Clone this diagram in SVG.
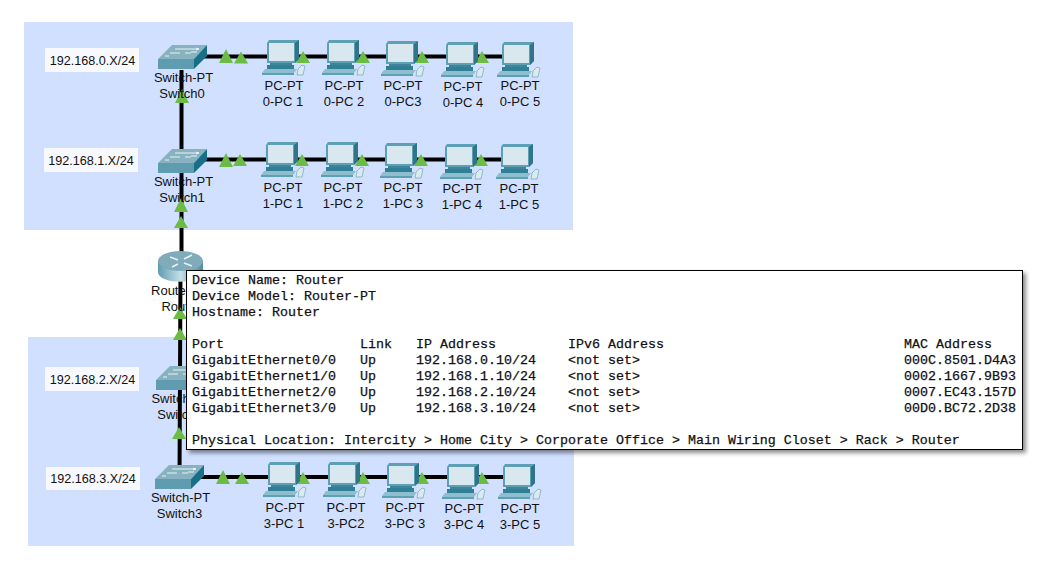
<svg xmlns="http://www.w3.org/2000/svg" width="1062" height="574" viewBox="0 0 1062 574">
<style>
text{font-family:"Liberation Sans",Arial,sans-serif;font-size:13px;fill:#111;text-anchor:middle}
text.ip{font-size:12.6px}
text.m{font-family:"Liberation Mono","Courier New",monospace;font-size:13.33px;fill:#111;text-anchor:start;stroke:#111;stroke-width:.25}
.zone{fill:#d0e0fe}
.lab{fill:#f8f9ff}
.w{stroke:#000;stroke-width:4;fill:none}
.tb{fill:#6cbb45}
</style>
<defs>
<linearGradient id="rg" x1="0" x2="1" y1="0" y2="0"><stop offset="0" stop-color="#5f9cb0"/><stop offset=".5" stop-color="#c5dfe8"/><stop offset="1" stop-color="#4f8ba0"/></linearGradient>
<g id="pc">
<path d="M0 3L2 0H32V19L28 23H0Z" fill="#5d9fb3"/>
<path d="M28 3L32 0V19L28 23Z" fill="#2f7488"/>
<rect x="2" y="3" width="25" height="18" fill="#d9e8ee"/>
<path d="M3 23H25V25H3Z" fill="#3f8499"/>
<path d="M0 25H27V29H0Z" fill="#2f7f96"/>
<path d="M-2 29H30L27 33H-5Z" fill="#8fbfce"/>
<path d="M-5 33H27V35H-5Z" fill="#5d9fb3"/>
<path d="M31 29L35 25 38 26 36 35H30Z" fill="#dce9ee" stroke="#6fa9ba" stroke-width=".7"/>
</g>
<g id="sw">
<path d="M0 14L14 0H49L36 14Z" fill="#88b2c0"/>
<path d="M0 14H36V24H0Z" fill="#5f9cb0"/>
<path d="M36 14L49 0V11L36 24Z" fill="#176f8a"/>
<path d="M17 4H41M38 3l3 1-3 1M12 8H22M33 7h6M11 11H7M27 8h6" stroke="#e8f2f5" stroke-width="1" fill="none"/>
</g>
<path id="t1" class="tb" d="M-7 7L0 -7L7 7Z"/>
<path id="t2" class="tb" d="M-7 6L0 -6L7 6Z"/>
<filter id="sh" x="-2%" y="-3%" width="105%" height="108%"><feDropShadow dx="3" dy="3" stdDeviation="2" flood-color="#000" flood-opacity=".45"/></filter>
</defs>
<rect width="1062" height="574" fill="#fff"/>
<rect class="zone" x="24" y="22" width="549" height="208"/>
<rect class="zone" x="28" y="337" width="546" height="209"/>
<g id="connectors">
<path class="w" d="M181.500 70V262M180.500 270L179.500 480"/>
<path class="w" d="M200 56.500H531M200 159.500H531M200 477H535"/>
</g>
<g id="markers">
<use href="#t1" x="226" y="56"/><use href="#t2" x="241" y="57.500"/>
<use href="#t2" x="303" y="57"/><use href="#t2" x="363" y="57"/><use href="#t2" x="422" y="57"/><use href="#t2" x="482" y="57"/>
<use href="#t1" x="226" y="160"/><use href="#t2" x="240" y="160"/>
<use href="#t2" x="302" y="160"/><use href="#t2" x="362" y="160"/><use href="#t2" x="421" y="160"/><use href="#t2" x="481" y="160"/>
<use href="#t1" x="223" y="477"/><use href="#t2" x="242" y="478"/>
<use href="#t2" x="303" y="478"/><use href="#t2" x="363" y="478"/><use href="#t2" x="422" y="478"/><use href="#t2" x="482" y="478"/>
<use href="#t1" x="182" y="96"/>
<use href="#t1" x="181" y="205"/><use href="#t2" x="181" y="222"/><use href="#t2" x="180" y="313"/><use href="#t2" x="180" y="334"/><use href="#t2" x="179" y="433"/>
</g>
<g id="label-0"><rect class="lab" x="45" y="48" width="94" height="24"/><text class="ip" x="92.500" y="65">192.168.0.X/24</text></g>
<g id="label-1"><rect class="lab" x="44" y="148" width="94" height="24"/><text class="ip" x="91" y="165">192.168.1.X/24</text></g>
<g id="label-2"><rect class="lab" x="45" y="367" width="94" height="24"/><text class="ip" x="92.500" y="384">192.168.2.X/24</text></g>
<g id="label-3"><rect class="lab" x="46" y="467" width="94" height="23"/><text class="ip" x="93" y="483">192.168.3.X/24</text></g>
<g id="switch0"><use href="#sw" x="158" y="45"/><text x="183.500" y="82">Switch-PT</text><text x="182" y="98">Switch0</text></g>
<g id="switch1"><use href="#sw" x="158" y="149"/><text x="183.500" y="186">Switch-PT</text><text x="182" y="202">Switch1</text></g>
<g id="switch2"><use href="#sw" x="156" y="366"/><text x="181" y="403">Switch-PT</text><text x="180" y="419">Switch2</text></g>
<g id="switch3"><use href="#sw" x="155" y="465"/><text x="180.500" y="502">Switch-PT</text><text x="179.500" y="518">Switch3</text></g>
<g id="router">
<path d="M158 261V272C158 285 203 285 203 272V261Z" fill="url(#rg)"/>
<ellipse cx="180.500" cy="261" rx="22.500" ry="10" fill="#7fabba"/>
<path d="M170 257l8 3M192 255l-8 4M172 267l6-3M192 266l-8-3" stroke="#e8f2f5" stroke-width="1.6"/>
<text x="181" y="295">Router-PT</text><text x="181" y="311">Router</text>
</g>
<g id="pc-0-1"><use href="#pc" x="267" y="40"/><text x="284" y="90">PC-PT</text><text x="283" y="106">0-PC 1</text></g>
<g id="pc-0-2"><use href="#pc" x="327" y="40"/><text x="344" y="90">PC-PT</text><text x="344" y="106">0-PC 2</text></g>
<g id="pc-0-3"><use href="#pc" x="386" y="41"/><text x="403" y="90">PC-PT</text><text x="403" y="106">0-PC3</text></g>
<g id="pc-0-4"><use href="#pc" x="446" y="42"/><text x="463" y="91">PC-PT</text><text x="463" y="107">0-PC 4</text></g>
<g id="pc-0-5"><use href="#pc" x="502" y="42"/><text x="520" y="90">PC-PT</text><text x="520" y="106">0-PC 5</text></g>
<g id="pc-1-1"><use href="#pc" x="266" y="142"/><text x="283" y="192">PC-PT</text><text x="283" y="208">1-PC 1</text></g>
<g id="pc-1-2"><use href="#pc" x="326" y="142"/><text x="343" y="192">PC-PT</text><text x="343" y="208">1-PC 2</text></g>
<g id="pc-1-3"><use href="#pc" x="385" y="143"/><text x="403" y="192">PC-PT</text><text x="403" y="208">1-PC 3</text></g>
<g id="pc-1-4"><use href="#pc" x="445" y="144"/><text x="462" y="193">PC-PT</text><text x="462" y="209">1-PC 4</text></g>
<g id="pc-1-5"><use href="#pc" x="501" y="144"/><text x="519" y="193">PC-PT</text><text x="519" y="209">1-PC 5</text></g>
<g id="pc-3-1"><use href="#pc" x="268" y="462"/><text x="285" y="512">PC-PT</text><text x="284" y="528">3-PC 1</text></g>
<g id="pc-3-2"><use href="#pc" x="328" y="462"/><text x="346" y="512">PC-PT</text><text x="346" y="528">3-PC2</text></g>
<g id="pc-3-3"><use href="#pc" x="387" y="463"/><text x="405" y="512">PC-PT</text><text x="405" y="528">3-PC 3</text></g>
<g id="pc-3-4"><use href="#pc" x="447" y="464"/><text x="464" y="513">PC-PT</text><text x="464" y="529">3-PC 4</text></g>
<g id="pc-3-5"><use href="#pc" x="503" y="464"/><text x="520" y="513">PC-PT</text><text x="520" y="529">3-PC 5</text></g>
<g id="tooltip">
<rect x="186.500" y="270.500" width="836" height="179" fill="#fff" stroke="#000" stroke-width="1" filter="url(#sh)"/>
<text class="m" x="192" y="284">Device Name: Router</text>
<text class="m" x="192" y="300">Device Model: Router-PT</text>
<text class="m" x="192" y="316">Hostname: Router</text>
<text class="m" x="192" y="348">Port</text><text class="m" x="360" y="348">Link</text><text class="m" x="416" y="348">IP Address</text><text class="m" x="568" y="348">IPv6 Address</text><text class="m" x="904" y="348">MAC Address</text>
<text class="m" x="192" y="364">GigabitEthernet0/0</text><text class="m" x="360" y="364">Up</text><text class="m" x="416" y="364">192.168.0.10/24</text><text class="m" x="568" y="364">&lt;not set&gt;</text><text class="m" x="904" y="364">000C.8501.D4A3</text>
<text class="m" x="192" y="380">GigabitEthernet1/0</text><text class="m" x="360" y="380">Up</text><text class="m" x="416" y="380">192.168.1.10/24</text><text class="m" x="568" y="380">&lt;not set&gt;</text><text class="m" x="904" y="380">0002.1667.9B93</text>
<text class="m" x="192" y="396">GigabitEthernet2/0</text><text class="m" x="360" y="396">Up</text><text class="m" x="416" y="396">192.168.2.10/24</text><text class="m" x="568" y="396">&lt;not set&gt;</text><text class="m" x="904" y="396">0007.EC43.157D</text>
<text class="m" x="192" y="412">GigabitEthernet3/0</text><text class="m" x="360" y="412">Up</text><text class="m" x="416" y="412">192.168.3.10/24</text><text class="m" x="568" y="412">&lt;not set&gt;</text><text class="m" x="904" y="412">00D0.BC72.2D38</text>
<text class="m" x="192" y="444">Physical Location: Intercity &gt; Home City &gt; Corporate Office &gt; Main Wiring Closet &gt; Rack &gt; Router</text>
</g>
</svg>
